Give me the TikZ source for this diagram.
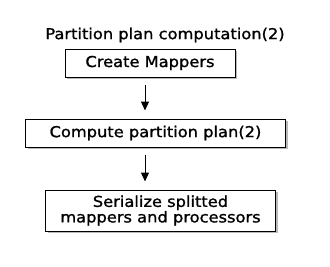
\documentclass[tikz,border=0pt]{standalone}
\usepackage{fontspec}
\setmainfont{DejaVu Sans}[FakeStretch=1.085,FakeBold=1.2]
\usetikzlibrary{arrows.meta,shadows}
\begin{document}
\begin{tikzpicture}[x=1pt,y=1pt,
  box/.style={draw=black, line width=1pt, fill=white, minimum height=28pt, inner sep=0pt,
    drop shadow={shadow xshift=2pt, shadow yshift=-2pt, fill=black!45, opacity=0.6}},
  flow/.style={-{Triangle[length=9pt,width=8pt]}, line width=1pt},
  txt/.style={font=\fontsize{15}{13.6}\selectfont}]
\useasboundingbox (0,0) rectangle (330,266);
\fill[white] (0,0) rectangle (330,266);
\node[txt] (title) at (165,231) {Partition plan computation(2)};
\node[box, txt, minimum width=170pt] (b1) at (150,203) {Create Mappers};
\node[box, txt, minimum width=260pt] (b2) at (155.5,133) {Compute partition plan(2)};
\node[box, txt, minimum width=230pt, minimum height=41pt, align=center] (b3) at (160.5,55.5) {Serialize splitted\\mappers and processors};
\draw[flow, shorten <=7pt, shorten >=8pt] (b1.south -| 145,0) -- (b2.north -| 145,0);
\draw[flow, shorten <=7pt, shorten >=8pt] (b2.south -| 145,0) -- (b3.north -| 145,0);
\end{tikzpicture}
\end{document}
